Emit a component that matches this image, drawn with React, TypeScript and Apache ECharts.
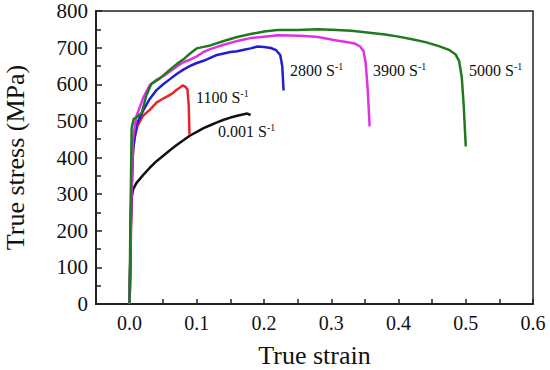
import React, { useEffect, useRef } from "react";
import * as echarts from "echarts";

const strainTicks = [0.0, 0.1, 0.2, 0.3, 0.4, 0.5, 0.6];

const curve0001: number[][] = [
  [0, 0], [0.001, 120], [0.002, 230], [0.003, 290], [0.005, 312], [0.01, 330], [0.02, 352],
  [0.03, 372], [0.04, 390], [0.05, 405], [0.06, 420], [0.07, 434], [0.08, 447], [0.09, 460],
  [0.1, 470], [0.11, 480], [0.12, 488], [0.13, 496], [0.14, 503], [0.15, 509], [0.16, 514],
  [0.17, 518], [0.175, 520], [0.18, 516],
];
const curve1100: number[][] = [
  [0, 0], [0.002, 200], [0.004, 390], [0.007, 450], [0.012, 488], [0.02, 514], [0.03, 530],
  [0.04, 550], [0.05, 561], [0.06, 571], [0.065, 577], [0.07, 585], [0.075, 591], [0.079, 597],
  [0.083, 593], [0.086, 586], [0.088, 540], [0.089, 462],
];
const curve2800: number[][] = [
  [0, 0], [0.002, 250], [0.005, 420], [0.01, 488], [0.02, 528], [0.03, 560], [0.04, 584],
  [0.05, 600], [0.06, 614], [0.07, 628], [0.08, 640], [0.09, 650], [0.1, 658], [0.11, 664],
  [0.12, 672], [0.13, 680], [0.14, 684], [0.15, 688], [0.16, 690], [0.17, 694], [0.18, 698],
  [0.19, 703], [0.2, 702], [0.21, 699], [0.218, 693], [0.224, 680], [0.227, 650], [0.229, 583],
];
const curve3900: number[][] = [
  [0, 0], [0.002, 250], [0.005, 450], [0.01, 512], [0.02, 562], [0.03, 598], [0.04, 612],
  [0.05, 622], [0.06, 635], [0.07, 648], [0.08, 660], [0.09, 667], [0.1, 676], [0.11, 688],
  [0.12, 696], [0.13, 702], [0.14, 708], [0.15, 713], [0.16, 718], [0.17, 722], [0.18, 726],
  [0.2, 730], [0.22, 734], [0.24, 733], [0.26, 732], [0.28, 729], [0.3, 722], [0.31, 719],
  [0.32, 716], [0.335, 711], [0.343, 703], [0.348, 690], [0.351, 660], [0.354, 590], [0.357, 485],
];
const curve5000: number[][] = [
  [0, 0], [0.001, 200], [0.003, 480], [0.006, 505], [0.012, 512], [0.018, 522], [0.025, 570],
  [0.032, 600], [0.045, 616], [0.06, 640], [0.07, 655], [0.08, 668], [0.09, 684], [0.1, 698],
  [0.11, 702], [0.12, 706], [0.14, 718], [0.16, 729], [0.18, 737], [0.2, 744], [0.22, 748],
  [0.25, 748], [0.28, 750], [0.3, 749], [0.33, 746], [0.36, 740], [0.38, 736], [0.4, 730],
  [0.42, 723], [0.44, 715], [0.46, 704], [0.475, 694], [0.485, 681], [0.49, 664], [0.494, 620],
  [0.497, 540], [0.5, 430],
];

const seriesNames = ["0.001", "1100", "2800", "3900", "5000"];
const seriesColors = ["#111111", "#e3262b", "#1f1fd2", "#e032e3", "#1f7a1f"];
const seriesData = [curve0001, curve1100, curve2800, curve3900, curve5000];

const FONT = "Liberation Serif";

function rateLabel(rate: string, x: number, y: number) {
  return {
    type: "text",
    left: x,
    top: y,
    style: {
      text: `{n|${rate} S}{s|-1}`,
      rich: {
        n: { fontFamily: FONT, fontSize: 16, lineHeight: 18, fill: "#111" },
        s: { fontFamily: FONT, fontSize: 10, lineHeight: 10, verticalAlign: "top", fill: "#111" },
      },
    },
  };
}

export default function App() {
  const ref = useRef<HTMLDivElement>(null);
  useEffect(() => {
    if (!ref.current) return;
    const chart = echarts.init(ref.current, null, { renderer: "svg" });
    chart.setOption({
      animation: false,
      grid: {
        left: 96, right: 17, top: 11, bottom: 66,
        containLabel: false,
        outerBoundsMode: "none",
        show: true, borderColor: "#222", borderWidth: 1.5, backgroundColor: "transparent",
      },
      xAxis: {
        type: "value",
        min: -0.05,
        max: 0.6,
        interval: 0.05,
        name: "True strain",
        nameLocation: "middle",
        nameGap: 38,
        nameTextStyle: { fontFamily: FONT, fontSize: 26, color: "#111" },
        axisLine: { show: true, onZero: false, lineStyle: { color: "#222", width: 2 } },
        axisTick: { show: true, inside: true, length: 5, lineStyle: { color: "#222", width: 1.5 } },
        splitLine: { show: false },
        axisLabel: {
          fontFamily: FONT, fontSize: 20, color: "#111", margin: 9,
          formatter: (v: number) => {
            const t = strainTicks.find((s) => Math.abs(s - v) < 1e-6);
            return t === undefined ? "" : t.toFixed(1);
          },
        },
      },
      yAxis: {
        type: "value",
        min: 0,
        max: 800,
        interval: 100,
        name: "True stress (MPa)",
        nameLocation: "middle",
        nameGap: 68,
        nameTextStyle: { fontFamily: FONT, fontSize: 26, color: "#111" },
        axisLine: { show: true, onZero: false, lineStyle: { color: "#222", width: 2 } },
        axisTick: { show: true, inside: true, length: 6, lineStyle: { color: "#222", width: 1.5 } },
        minorTick: { show: true, splitNumber: 2, length: 5, lineStyle: { color: "#222", width: 1.5 } },
        splitLine: { show: false },
        axisLabel: { fontFamily: FONT, fontSize: 21, color: "#111", margin: 8 },
      },
      graphic: [
        rateLabel("1100", 196, 88),
        rateLabel("0.001", 218, 122),
        rateLabel("2800", 290, 61),
        rateLabel("3900", 373, 61),
        rateLabel("5000", 469, 61),
      ],
      series: seriesData.map((d, i) => ({
        type: "line",
        name: seriesNames[i],
        data: d,
        showSymbol: false,
        symbol: "none",
        z: i === 0 ? 1 : 2 + i,
        lineStyle: { color: seriesColors[i], width: 2.5 },
      })),
    });
    return () => chart.dispose();
  }, []);
  return (
    <div
      ref={ref}
      style={{ position: "fixed", left: 0, top: 0, width: 550, height: 370, background: "#fff" }}
    />
  );
}
